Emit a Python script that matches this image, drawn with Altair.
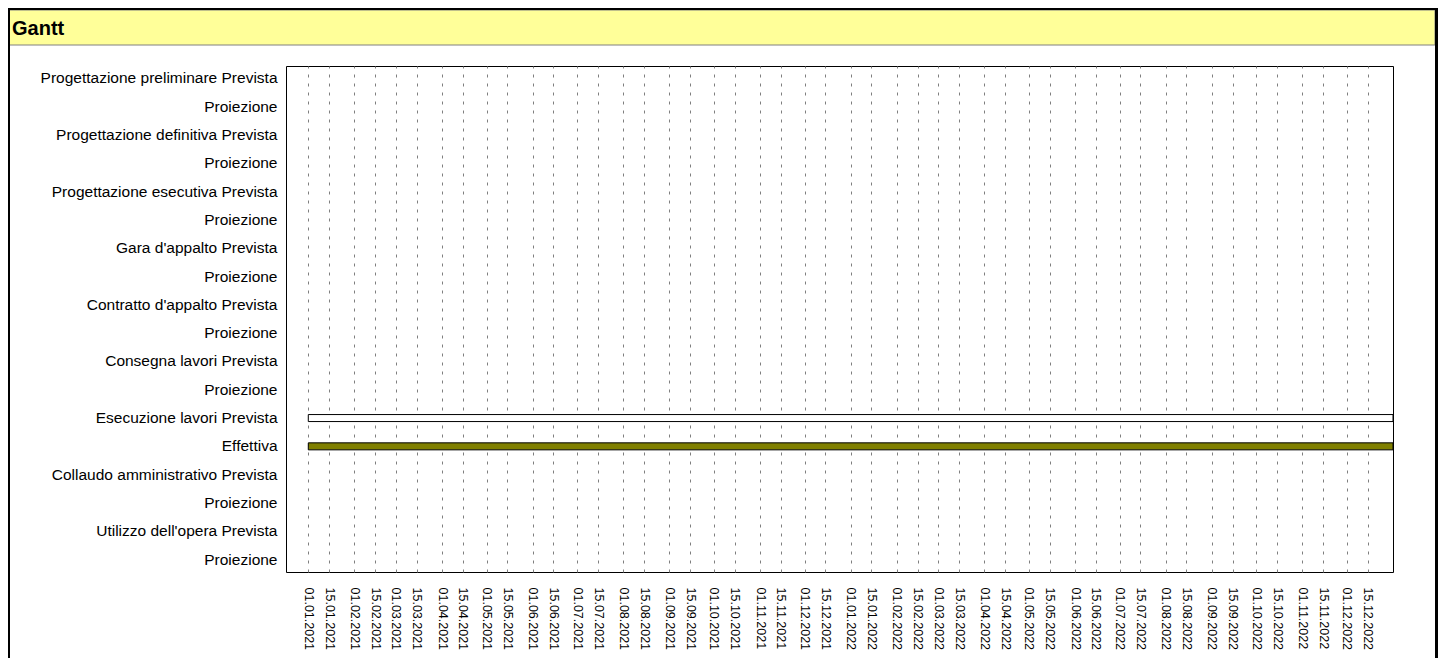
import altair as alt
import pandas as pd

# ---- data ----
row_labels = [
    "Progettazione preliminare Prevista", "Proiezione",
    "Progettazione definitiva Prevista", "Proiezione",
    "Progettazione esecutiva Prevista", "Proiezione",
    "Gara d'appalto Prevista", "Proiezione",
    "Contratto d'appalto Prevista", "Proiezione",
    "Consegna lavori Prevista", "Proiezione",
    "Esecuzione lavori Prevista", "Effettiva",
    "Collaudo amministrativo Prevista", "Proiezione",
    "Utilizzo dell'opera Prevista", "Proiezione",
]
row_keys = [f"{i:02d}|{lab}" for i, lab in enumerate(row_labels)]

bar_rows = [row_keys[12], row_keys[13]]
bar_start = ["2021-01-01", "2021-01-01"]
bar_end = ["2023-01-01", "2023-01-01"]
bar_fill = ["#ffffff", "#808000"]

tick_dates = []
for yr in (2021, 2022):
    for mo in range(1, 13):
        tick_dates.append(f"{yr}-{mo:02d}-01")
        tick_dates.append(f"{yr}-{mo:02d}-15")
domain_dates = ["2020-12-17", "2023-01-01"]

tick_ms = [int(pd.Timestamp(d, tz="UTC").value // 10**6) for d in tick_dates]
domain_ms = [int(pd.Timestamp(d, tz="UTC").value // 10**6) for d in domain_dates]

FONT = "Liberation Sans"

bars_df = pd.DataFrame({"row": bar_rows, "start": bar_start, "end": bar_end, "fill": bar_fill})
dummy = pd.DataFrame({"a": [0]})

W, H = 1107, 506

bars = alt.Chart(bars_df).mark_bar(height=7, stroke="#000000", strokeWidth=1, clip=True).encode(
    x=alt.X(
        "start:T",
        scale=alt.Scale(type="utc", domain=domain_ms),
        axis=alt.Axis(
            values=tick_ms,
            labelExpr="utcFormat(datum.value, '%d.%m.%Y')",
            labelAngle=90,
            labelAlign="left",
            labelBaseline="middle",
            labelPadding=15,
            labelFont=FONT,
            labelFontSize=12.5,
            labelColor="#000000",
            labelOverlap=False,
            labelFlush=False,
            labelBound=False,
            ticks=False,
            tickSize=0,
            domain=False,
            grid=True,
            gridColor="#7f7f7f",
            gridDash=[3, 6],
            gridWidth=1,
            title=None,
        ),
    ),
    x2="end:T",
    y=alt.Y(
        "row:N",
        sort=row_keys,
        scale=alt.Scale(domain=row_keys, paddingInner=0.5, paddingOuter=0.19),
        axis=alt.Axis(
            labelExpr="split(datum.value, '|')[1]",
            labelFont=FONT,
            labelFontSize=15.5,
            labelColor="#000000",
            labelPadding=9,
            labelLimit=0,
            ticks=False,
            tickSize=0,
            domain=False,
            grid=False,
            title=None,
        ),
    ),
    fill=alt.Fill("fill:N", scale=None),
)

header = alt.Chart(dummy).mark_rect(fill="#ffff99", stroke="#808080", strokeWidth=1).encode(
    x=alt.value(-279), x2=alt.value(1149), y=alt.value(-56), y2=alt.value(-21)
)
top_band = alt.Chart(dummy).mark_rect(fill="#000000").encode(
    x=alt.value(-280), x2=alt.value(1153), y=alt.value(-60), y2=alt.value(-56)
)
left_border = alt.Chart(dummy).mark_rect(fill="#000000").encode(
    x=alt.value(-280), x2=alt.value(-276), y=alt.value(-60), y2=alt.value(600)
)
right_border = alt.Chart(dummy).mark_rect(fill="#000000").encode(
    x=alt.value(1149), x2=alt.value(1153), y=alt.value(-60), y2=alt.value(600)
)
title = alt.Chart(dummy).mark_text(
    text="Gantt", font=FONT, fontSize=20, fontWeight="bold", align="left", baseline="alphabetic", color="#000000"
).encode(x=alt.value(-274), y=alt.value(-31))

chart = alt.layer(header, top_band, left_border, right_border, bars, title).properties(
    width=W,
    height=H,
    padding={"left": 278, "top": 58, "right": 45, "bottom": 86},
    autosize=alt.AutoSizeParams(type="none"),
    background="#ffffff",
).configure_view(stroke="#000000", strokeWidth=1)

chart.save("out.html", embed_options={"renderer": "svg", "actions": False})
